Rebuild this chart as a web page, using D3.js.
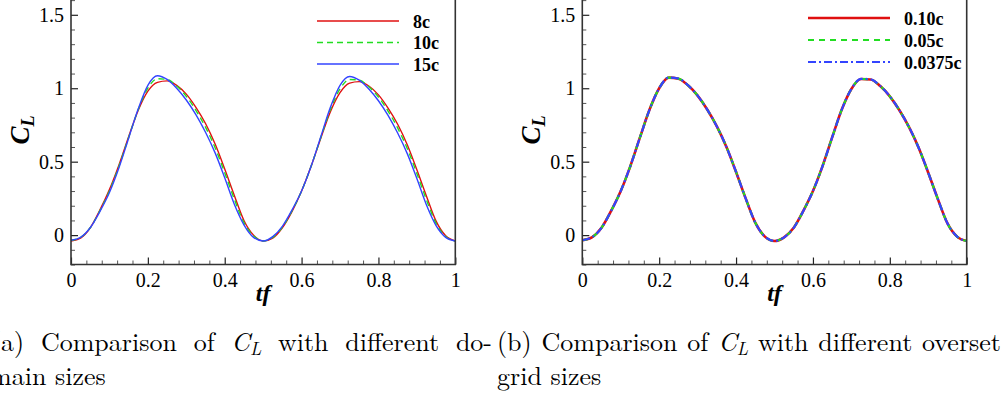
<!DOCTYPE html>
<html>
<head>
<meta charset="utf-8">
<script src="https://cdn.jsdelivr.net/npm/d3@7"></script>
<style>
  html, body { margin: 0; padding: 0; background: #fff; }
  svg { display: block; }
</style>
</head>
<body>
<svg id="chart" width="1003" height="396"></svg>
<script>
// Phase samples tf = 0, 0.025, ..., 1
const tf = d3.range(41).map(i => i * 0.025);

// (a) domain sizes
const cl8c = [-0.04, -0.02, 0.05, 0.17, 0.31, 0.48, 0.67, 0.85, 0.98, 1.04, 1.05, 1.02, 0.96, 0.87, 0.76, 0.62, 0.45, 0.27, 0.10, 0.0, -0.04,
  -0.02, 0.05, 0.16, 0.30, 0.47, 0.66, 0.84, 0.97, 1.035, 1.045, 1.015, 0.955, 0.865, 0.755, 0.615, 0.445, 0.265, 0.095, -0.005, -0.04];
const cl10c = [-0.035, -0.015, 0.05, 0.165, 0.30, 0.47, 0.665, 0.855, 1.0, 1.065, 1.06, 1.015, 0.945, 0.85, 0.735, 0.595, 0.425, 0.245, 0.085, -0.005, -0.04,
  -0.015, 0.055, 0.165, 0.30, 0.47, 0.665, 0.855, 0.995, 1.06, 1.055, 1.01, 0.94, 0.845, 0.73, 0.59, 0.42, 0.24, 0.08, -0.01, -0.04];
const cl15c = [-0.035, -0.015, 0.05, 0.16, 0.29, 0.46, 0.66, 0.86, 1.02, 1.085, 1.06, 1.0, 0.92, 0.82, 0.70, 0.56, 0.39, 0.21, 0.07, -0.015, -0.04,
  -0.01, 0.06, 0.17, 0.30, 0.47, 0.67, 0.87, 1.02, 1.08, 1.055, 0.995, 0.915, 0.815, 0.695, 0.555, 0.385, 0.205, 0.065, -0.015, -0.04];

// (b) overset grid sizes
const cl010c = [-0.035, -0.015, 0.05, 0.165, 0.30, 0.47, 0.665, 0.855, 1.0, 1.072, 1.065, 1.02, 0.95, 0.855, 0.74, 0.60, 0.43, 0.25, 0.085, -0.01, -0.04,
  -0.015, 0.05, 0.165, 0.30, 0.47, 0.665, 0.855, 0.995, 1.063, 1.06, 1.015, 0.945, 0.85, 0.735, 0.595, 0.425, 0.245, 0.08, -0.01, -0.04];
const cl005c = [-0.035, -0.015, 0.05, 0.165, 0.30, 0.47, 0.665, 0.855, 1.0, 1.072, 1.065, 1.02, 0.95, 0.855, 0.74, 0.60, 0.43, 0.25, 0.085, -0.01, -0.04,
  -0.015, 0.05, 0.165, 0.30, 0.47, 0.665, 0.855, 0.995, 1.063, 1.06, 1.015, 0.945, 0.85, 0.735, 0.595, 0.425, 0.245, 0.08, -0.01, -0.04];
const cl00375c = [-0.035, -0.015, 0.05, 0.165, 0.30, 0.47, 0.665, 0.855, 1.0, 1.073, 1.066, 1.02, 0.95, 0.855, 0.74, 0.60, 0.43, 0.25, 0.085, -0.01, -0.04,
  -0.015, 0.05, 0.165, 0.30, 0.47, 0.665, 0.855, 0.995, 1.064, 1.061, 1.015, 0.945, 0.85, 0.735, 0.595, 0.425, 0.245, 0.08, -0.01, -0.04];

const xTicks = [0, 0.2, 0.4, 0.6, 0.8, 1];
const yTicks = [0, 0.5, 1, 1.5];
const legendA = ["8c", "10c", "15c"];
const legendB = ["0.10c", "0.05c", "0.0375c"];

const PLOT_FONT = "'Liberation Serif'";
const CAP_FONT = "'Latin Modern Roman'";
const svg = d3.select("#chart");

const RED = "#e01010", GREEN = "#22dd22", BLUE = "#3344ff";

function panel(opts) {
  const { id, left, right, series, legend, legendX, legendY } = opts;
  const top = -12, bottom = 264.5;
  const x = d3.scaleLinear().domain([0, 1]).range([left, right]);
  const y = d3.scaleLinear().domain([-0.2, 1.5]).range([bottom, 14.8]);
  const g = svg.append("g");

  g.append("clipPath").attr("id", id).append("rect")
    .attr("x", left).attr("y", top).attr("width", right - left).attr("height", bottom - top);

  // minor ticks
  const minorX = d3.range(0, 1.0001, 0.04).filter(v => Math.abs(v * 5 - Math.round(v * 5)) > 1e-6);
  const minorY = d3.range(-0.2, 1.70001, 0.1).filter(v => Math.abs(v * 2 - Math.round(v * 2)) > 1e-6);
  g.append("g").attr("transform", `translate(0,${bottom})`)
    .call(d3.axisBottom(x).tickValues(minorX).tickSize(-4).tickFormat(""))
    .call(s => s.select(".domain").remove())
    .selectAll("line").attr("stroke", "#555").attr("stroke-width", 1);
  g.append("g").attr("transform", `translate(${left},0)`)
    .call(d3.axisLeft(y).tickValues(minorY).tickSize(-4).tickFormat(""))
    .call(s => s.select(".domain").remove())
    .selectAll("line").attr("stroke", "#555").attr("stroke-width", 1);

  // major ticks with labels
  const ax = g.append("g").attr("transform", `translate(0,${bottom})`)
    .call(d3.axisBottom(x).tickValues(xTicks).tickSize(-7).tickPadding(8).tickFormat(d3.format("")));
  ax.select(".domain").remove();
  ax.selectAll("line").attr("stroke", "#222").attr("stroke-width", 1.2);
  ax.selectAll("text").attr("font-size", 20).style("font-family", PLOT_FONT).attr("fill", "#000");

  const ay = g.append("g").attr("transform", `translate(${left},0)`)
    .call(d3.axisLeft(y).tickValues(yTicks).tickSize(-7).tickPadding(7).tickFormat(d3.format("")));
  ay.select(".domain").remove();
  ay.selectAll("line").attr("stroke", "#222").attr("stroke-width", 1.2);
  ay.selectAll("text").attr("font-size", 20).style("font-family", PLOT_FONT).attr("fill", "#000");

  // curves
  const line = d3.line().x((d, i) => x(tf[i])).y(d => y(d)).curve(d3.curveMonotoneX);
  const curves = g.append("g").attr("clip-path", `url(#${id})`);
  series.forEach(s => {
    curves.append("path").datum(s.values)
      .attr("d", line).attr("fill", "none")
      .attr("stroke", s.color).attr("stroke-width", s.width)
      .attr("stroke-dasharray", s.dash || null);
  });

  // frame
  g.append("path")
    .attr("d", `M${left},${top}V${bottom}H${right}V${top}`)
    .attr("fill", "none").attr("stroke", "#333").attr("stroke-width", 1.6);

  // legend
  series.forEach((s, i) => {
    const ly = legendY[i];
    g.append("line").attr("x1", legendX).attr("x2", legendX + 82)
      .attr("y1", ly).attr("y2", ly)
      .attr("stroke", s.color).attr("stroke-width", s.width)
      .attr("stroke-dasharray", s.dash || null);
    g.append("text").attr("x", legendX + 96).attr("y", ly + 6.5)
      .style("font-family", PLOT_FONT)
      .attr("font-size", 18).attr("font-weight", "bold").text(legend[i]);
  });

  // axis titles
  g.append("text").attr("x", (left + right) / 2).attr("y", 301)
    .style("font-family", PLOT_FONT)
    .attr("text-anchor", "middle").attr("font-size", 24)
    .attr("font-weight", "bold").attr("font-style", "italic").text("tf");

  const yt = g.append("text")
    .attr("transform", `translate(${left - 42},${130}) rotate(-90)`)
    .style("font-family", PLOT_FONT)
    .attr("text-anchor", "middle").attr("font-size", 27)
    .attr("font-weight", "bold").attr("font-style", "italic");
  yt.append("tspan").text("C");
  yt.append("tspan").attr("font-size", 18).attr("dy", 5).text("L");
}

panel({
  id: "clipA", left: 71, right: 455.3,
  series: [
    { values: cl8c, color: RED, width: 1.4 },
    { values: cl10c, color: GREEN, width: 1.4, dash: "6,4" },
    { values: cl15c, color: BLUE, width: 1.4 }
  ],
  legend: legendA, legendX: 317, legendY: [21, 42.5, 64]
});

panel({
  id: "clipB", left: 582.3, right: 966.7,
  series: [
    { values: cl010c, color: RED, width: 2.6 },
    { values: cl005c, color: GREEN, width: 2.2, dash: "6,5" },
    { values: cl00375c, color: BLUE, width: 2.2, dash: "8,3,2,3" }
  ],
  legend: legendB, legendX: 808, legendY: [18, 40, 62]
});

// captions, justified word by word
const capFont = 26;
function captionLine(words, x0, x1, baseline, justify) {
  const g = svg.append("g");
  const items = words.map(w => {
    const t = g.append("text").attr("y", baseline).attr("font-size", capFont)
      .style("font-family", CAP_FONT).attr("fill", "#000");
    if (w === "CL") {
      t.append("tspan").attr("font-style", "italic").text("C");
      t.append("tspan").attr("font-style", "italic").attr("font-size", 18).attr("dy", 4).text("L");
    } else {
      t.text(w);
    }
    return { t, w: t.node().getComputedTextLength() };
  });
  const total = d3.sum(items, d => d.w);
  const gap = justify && items.length > 1 ? (x1 - x0 - total) / (items.length - 1) : capFont * 0.33;
  let cx = x0;
  items.forEach(d => { d.t.attr("x", cx); cx += d.w + gap; });
}

captionLine(["(a)", "Comparison", "of", "CL", "with", "different", "do-"], -9, 492, 351, true);
captionLine(["main", "sizes"], -10, 0, 385, false);
captionLine(["(b)", "Comparison", "of", "CL", "with", "different", "overset"], 497, 1001, 351, true);
captionLine(["grid", "sizes"], 497, 0, 385, false);
</script>
</body>
</html>
